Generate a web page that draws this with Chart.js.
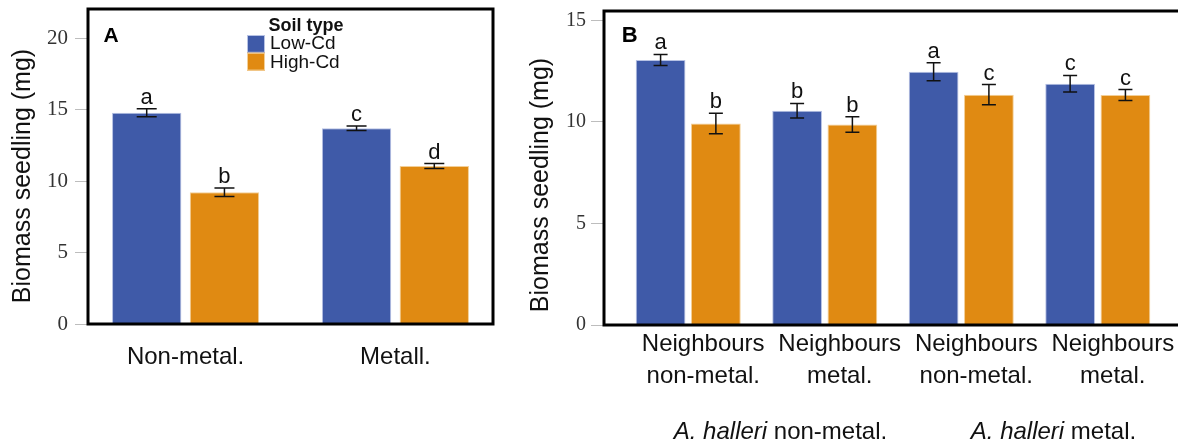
<!DOCTYPE html>
<html>
<head>
<meta charset="utf-8">
<script src="https://cdn.jsdelivr.net/npm/chart.js@4.4.1/dist/chart.umd.min.js"></script>
<style>
  html, body { margin: 0; padding: 0; background: #fff; overflow: hidden; }
  body { width: 1178px; height: 446px; position: relative; }
  #wrapA { position: absolute; left: 0; top: 0; width: 545px; height: 446px; }
  #wrapB { position: absolute; left: 520px; top: 0; width: 670px; height: 446px; }
</style>
</head>
<body>
<div id="wrapA"><canvas id="chartA"></canvas></div>
<div id="wrapB"><canvas id="chartB"></canvas></div>
<script>
// ---- data ----
const soilTypes = ["Low-Cd", "High-Cd"];
const yTitle = "Biomass seedling (mg)";

// panel A: soil origin
const categoriesA = ["Non-metal.", "Metall."];
const lowCdA = [14.80, 13.71];
const highCdA = [9.23, 11.07];
const lowCdErrA = [0.28, 0.16];
const highCdErrA = [0.30, 0.17];
const lowLettersA = ["a", "c"];
const highLettersA = ["b", "d"];
const yTicksA = [0, 5, 10, 15, 20];

// panel B: neighbours x A. halleri origin
const categoriesB = [["Neighbours", "non-metal."], ["Neighbours", "metal."], ["Neighbours", "non-metal."], ["Neighbours", "metal."]];
const hallerGroupsB = ["non-metal.", "metal."];
const lowCdB = [13.05, 10.55, 12.47, 11.88];
const highCdB = [9.92, 9.87, 11.34, 11.32];
const lowCdErrB = [0.27, 0.36, 0.44, 0.41];
const highCdErrB = [0.50, 0.38, 0.50, 0.27];
const lowLettersB = ["a", "b", "a", "c"];
const highLettersB = ["b", "b", "c", "c"];
const yTicksB = [0, 5, 10, 15];

const BLUE = "#3F5AA8";
const ORANGE = "#E08A12";
const SANS = "'Liberation Sans', Arial, sans-serif";
const SERIF = "'Liberation Serif', 'Times New Roman', serif";

function toPoints(values) {
    return values.map((v, i) => ({ x: i, y: v }));
}

// box around the plot area
const framePlugin = {
    id: "frame",
    afterDatasetsDraw(chart) {
        const { ctx, chartArea: a } = chart;
        ctx.save();
        ctx.strokeStyle = "#000";
        ctx.lineWidth = 3;
        ctx.strokeRect(a.left, a.top, a.right - a.left, a.bottom - a.top);
        ctx.restore();
    }
};

// error bars + significance letters
const errorBarPlugin = {
    id: "errorBars",
    afterDraw(chart, args, opts) {
        const { ctx } = chart;
        const yScale = chart.scales.y;
        ctx.save();
        chart.data.datasets.forEach((ds, d) => {
            const meta = chart.getDatasetMeta(d);
            meta.data.forEach((bar, i) => {
                const v = ds.data[i].y;
                const e = ds.errors[i];
                const yTop = yScale.getPixelForValue(v + e);
                const yBot = yScale.getPixelForValue(v - e);
                ctx.strokeStyle = "#111";
                ctx.lineWidth = 1.5;
                ctx.beginPath();
                ctx.moveTo(bar.x, yTop); ctx.lineTo(bar.x, yBot);
                ctx.moveTo(bar.x - opts.cap, yTop); ctx.lineTo(bar.x + opts.cap, yTop);
                ctx.moveTo(bar.x - opts.cap, yBot); ctx.lineTo(bar.x + opts.cap, yBot);
                ctx.stroke();
                ctx.fillStyle = "#111";
                ctx.font = "22px " + SANS;
                ctx.textAlign = "center";
                ctx.textBaseline = "alphabetic";
                ctx.fillText(ds.letters[i], bar.x, yTop - 5);
            });
        });
        ctx.restore();
    }
};

// panel letter, y title, legend, extra group labels
const decorPlugin = {
    id: "decor",
    afterDraw(chart, args, opts) {
        const { ctx } = chart;
        ctx.save();
        ctx.fillStyle = "#000";
        ctx.textAlign = "left";
        ctx.textBaseline = "alphabetic";
        ctx.font = "bold " + opts.panelSize + "px " + SANS;
        ctx.fillText(opts.panel, opts.panelX, opts.panelY);

        ctx.save();
        ctx.translate(opts.titleX, opts.titleY);
        ctx.rotate(-Math.PI / 2);
        ctx.font = "25px " + SANS;
        ctx.fillStyle = "#111";
        ctx.textAlign = "center";
        ctx.fillText(yTitle, 0, 0);
        ctx.restore();

        if (opts.legend) {
            const lx = 247, ly = 35;
            ctx.font = "bold 18px " + SANS;
            ctx.textAlign = "center";
            ctx.fillStyle = "#111";
            ctx.fillText("Soil type", 306, 31);
            ctx.textAlign = "left";
            ctx.textBaseline = "middle";
            ctx.font = "19px " + SANS;
            chart.data.datasets.forEach((ds, i) => {
                ctx.fillStyle = ds.backgroundColor;
                ctx.fillRect(lx, ly + i * 17.8, 18, 17.8);
                ctx.strokeStyle = ds.borderColor;
                ctx.lineWidth = 1;
                ctx.strokeRect(lx + 0.5, ly + i * 17.8 + 0.5, 17, 16.8);
                ctx.fillStyle = "#111";
                ctx.fillText(soilTypes[i], lx + 23, ly + 9 + i * 18.5);
            });
        }

        if (opts.groups) {
            const xs = chart.scales.x;
            ctx.textBaseline = "alphabetic";
            ctx.fillStyle = "#111";
            hallerGroupsB.forEach((g, i) => {
                const cx = xs.getPixelForValue(0.5 + 2 * i) + 24;
                ctx.font = "italic 24px " + SANS;
                const w1 = ctx.measureText("A. halleri").width;
                ctx.font = "24px " + SANS;
                const w2 = ctx.measureText(" " + g).width;
                const x = cx - (w1 + w2) / 2;
                ctx.textAlign = "left";
                ctx.font = "italic 24px " + SANS;
                ctx.fillText("A. halleri", x, 439);
                ctx.font = "24px " + SANS;
                ctx.fillText(" " + g, x + w1, 439);
            });
        }
        ctx.restore();
    }
};

function buildChart(id, cfg) {
    return new Chart(document.getElementById(id), {
        type: "bar",
        data: {
            datasets: [
                {
                    label: soilTypes[0], data: toPoints(cfg.low), errors: cfg.lowErr, letters: cfg.lowLetters,
                    backgroundColor: BLUE, borderColor: "#b7c2e4", borderWidth: 1,
                    barPercentage: cfg.barPct, categoryPercentage: cfg.catPct
                },
                {
                    label: soilTypes[1], data: toPoints(cfg.high), errors: cfg.highErr, letters: cfg.highLetters,
                    backgroundColor: ORANGE, borderColor: "#f3cf97", borderWidth: 1,
                    barPercentage: cfg.barPct, categoryPercentage: cfg.catPct
                }
            ]
        },
        options: {
            responsive: true,
            maintainAspectRatio: false,
            animation: false,
            devicePixelRatio: 1,
            layout: { padding: { left: 0, right: cfg.padRight, top: cfg.padTop, bottom: 0 } },
            scales: {
                x: {
                    type: "linear",
                    offset: false,
                    min: cfg.xMin,
                    max: cfg.xMax,
                    grid: { display: false, drawTicks: false },
                    border: { display: false },
                    afterBuildTicks: axis => { axis.ticks = cfg.categories.map((_, i) => ({ value: i })); },
                    afterFit: axis => {
                        axis.height = cfg.xHeight;
                        axis.paddingLeft = 0;
                        axis.paddingRight = 0;
                    },
                    ticks: {
                        autoSkip: false, maxRotation: 0, minRotation: 0,
                        padding: cfg.xPad, labelOffset: cfg.labelOffset,
                        color: "#111",
                        font: { family: SANS, size: 24, lineHeight: cfg.xLine },
                        callback: (v, i) => cfg.categories[i]
                    }
                },
                y: {
                    min: 0,
                    max: cfg.yMax,
                    grid: { drawOnChartArea: false, drawTicks: true, tickLength: 13, color: "#bdbdbd", lineWidth: 1 },
                    border: { display: false },
                    afterBuildTicks: axis => { axis.ticks = cfg.yTicks.map(v => ({ value: v })); },
                    afterFit: axis => {
                        axis.width = cfg.yWidth;
                        axis.paddingTop = 0;
                        axis.paddingBottom = 0;
                    },
                    ticks: { padding: cfg.yPad, color: "#333", font: { family: SERIF, size: cfg.yFont } }
                }
            },
            plugins: {
                legend: { display: false },
                tooltip: { enabled: false },
                errorBars: { cap: cfg.cap },
                decor: cfg.decor
            }
        },
        plugins: [framePlugin, errorBarPlugin, decorPlugin]
    });
}

buildChart("chartA", {
    categories: categoriesA, low: lowCdA, high: highCdA,
    lowErr: lowCdErrA, highErr: highCdErrA, lowLetters: lowLettersA, highLetters: highLettersA,
    yTicks: yTicksA, yMax: 22.07, xMin: -0.465, xMax: 1.465,
    barPct: 0.892, catPct: 0.741, cap: 10,
    yWidth: 88, xHeight: 122, padTop: 9, padRight: 52,
    xPad: 19, xLine: 1.2, labelOffset: 0, yPad: 7, yFont: 21,
    decor: { panel: "A", panelSize: 21, panelX: 103.5, panelY: 41.7, titleX: 30, titleY: 176, legend: true, groups: false }
});

buildChart("chartB", {
    categories: categoriesB, low: lowCdB, high: highCdB,
    lowErr: lowCdErrB, highErr: highCdErrB, lowLetters: lowLettersB, highLetters: highLettersB,
    yTicks: yTicksB, yMax: 15.46, xMin: -0.617, xMax: 3.617,
    barPct: 0.9, catPct: 0.81, cap: 7,
    yWidth: 84, xHeight: 121, padTop: 11, padRight: 8,
    xPad: 4, xLine: 1.32, labelOffset: 15, yPad: 5, yFont: 20,
    decor: { panel: "B", panelSize: 22, panelX: 101.7, panelY: 41.7, titleX: 28, titleY: 185, legend: false, groups: true }
});
</script>
</body>
</html>
